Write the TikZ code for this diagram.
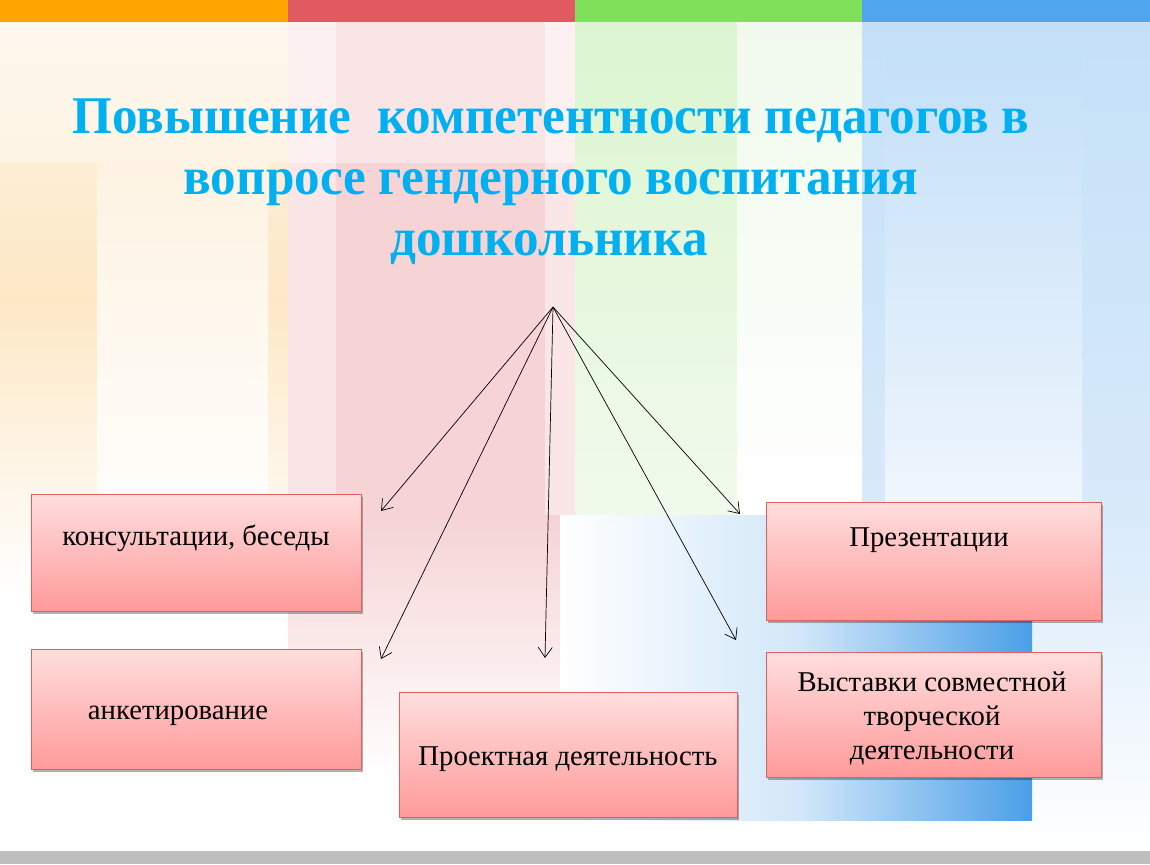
\documentclass[tikz,border=0pt]{standalone}
\usepackage{graphicx}
\usepackage{fontspec}
\setmainfont{Liberation Serif}
\usetikzlibrary{arrows.meta,shadows}
\definecolor{barO}{HTML}{FFA500}
\definecolor{barR}{HTML}{E05A5F}
\definecolor{barG}{HTML}{80E05A}
\definecolor{barB}{HTML}{4DA6EE}
\definecolor{colO}{HTML}{FDE8C6}
\definecolor{colO2}{HTML}{FEF3E2}
\definecolor{colP}{HTML}{F6D4D5}
\definecolor{colP2}{HTML}{FAE6E6}
\definecolor{colG}{HTML}{DCF5D0}
\definecolor{colG2}{HTML}{F0FAEC}
\definecolor{colB}{HTML}{C4E0F8}
\definecolor{colB2}{HTML}{F0F6FD}
\definecolor{colB3}{HTML}{D8EAFA}
\definecolor{deepB}{HTML}{4A9FE8}
\definecolor{midB}{HTML}{D2E7F9}
\definecolor{titleC}{HTML}{00B0F0}
\definecolor{boxTop}{HTML}{FFDEDE}
\definecolor{boxBot}{HTML}{FF9A9A}
\definecolor{boxLine}{HTML}{E06060}
\definecolor{greyBar}{HTML}{BEBEBE}
\newcommand{\ttlsq}[1]{\scalebox{0.965}[1]{#1}}
\tikzset{
  ttl/.style={text=titleC, font=\fontsize{53}{61}\selectfont\bfseries, inner sep=0pt, anchor=base},
  pbox/.style={draw=boxLine, line width=0.8pt, top color=boxTop, bottom color=boxBot,
    drop shadow={shadow xshift=2pt, shadow yshift=-3pt, opacity=0.3, fill=black}, inner sep=0pt},
  btxt/.style={font=\fontsize{28.7}{34}\selectfont, text=black, inner sep=0pt, align=center, anchor=base},
  arr/.style={draw=black, line width=0.7pt, -{Straight Barb[length=10pt, width=14pt, line width=0.7pt]}}
}
\begin{document}
\begin{tikzpicture}[x=1pt,y=-1pt]
\useasboundingbox (0,0) rectangle (1150,864);
% background
\fill[white] (0,0) rectangle (1150,864);
% orange column
\shade[top color=colO2, bottom color=colO] (0,22) rectangle (288,300);
\shade[top color=colO, bottom color=white] (0,300) rectangle (288,600);
\shade[top color=colO2, bottom color=white] (97,163) rectangle (268,560);
% pink column
\fill[colP] (288,22) rectangle (575,515);
\shade[top color=colP, bottom color=white] (288,515) rectangle (575,780);
\fill[colP2] (288,22) rectangle (336,515);
\fill[colP2] (545,22) rectangle (575,515);
% green column
\shade[top color=colG, bottom color=colG2] (575,22) rectangle (862,515);
\shade[top color=colG2, bottom color=white] (737,22) rectangle (862,515);
% blue column
\shade[top color=colB, bottom color=colB3] (862,22) rectangle (1150,515);
\shade[top color=colB, bottom color=colB2] (885,60) rectangle (1082,515);
\shade[top color=colB3, bottom color=white] (1032,515) rectangle (1150,851);
% light band
\fill[white, opacity=0.4] (0,22) rectangle (575,163);
% blue gradient panel
\shade[left color=white, right color=midB] (560,515) rectangle (800,820);
\shade[left color=midB, right color=deepB] (800,515) rectangle (1032,820);
% bars
\fill[greyBar] (0,851) rectangle (1150,864);
\fill[barO] (0,0) rectangle (288,22);
\fill[barR] (288,0) rectangle (575,22);
\fill[barG] (575,0) rectangle (862,22);
\fill[barB] (862,0) rectangle (1150,22);
% title
\node[ttl] (t1) at (551,133) {\ttlsq{Повышение\ \ компетентности педагогов в}};
\node[ttl] (t2) at (551,194) {\ttlsq{вопросе гендерного воспитания}};
\node[ttl] (t3) at (549,255) {\ttlsq{дошкольника}};
% boxes
\node[pbox, minimum width=330pt, minimum height=117pt] (b1) at (196,552.5) {};
\node[btxt] (b1t) at (196,545) {консультации, беседы};
\node[pbox, minimum width=330pt, minimum height=120pt] (b2) at (196,709) {};
\node[btxt] (b2t) at (178,719) {анкетирование};
\node[pbox, minimum width=338pt, minimum height=125pt] (b3) at (568,754.5) {};
\node[btxt] (b3t) at (568,765) {Проектная деятельность};
\node[pbox, minimum width=335pt, minimum height=118pt] (b4) at (933.5,561) {};
\node[btxt] (b4t) at (929,546) {Презентации};
\node[pbox, minimum width=335pt, minimum height=125pt] (b5) at (933.5,714.5) {};
\node[btxt] (b5t) at (932,759) {Выставки совместной\\творческой\\деятельности};
% arrows
\coordinate (hub) at (553,307);
\coordinate (e1) at (381,511);
\coordinate (e2) at (381,659);
\coordinate (e3) at (545,658);
\coordinate (e4) at (740,514);
\coordinate (e5) at (736,640);
\foreach \e in {e1,e2,e3,e4,e5} \draw[arr] (hub) -- (\e);
\end{tikzpicture}
\end{document}
